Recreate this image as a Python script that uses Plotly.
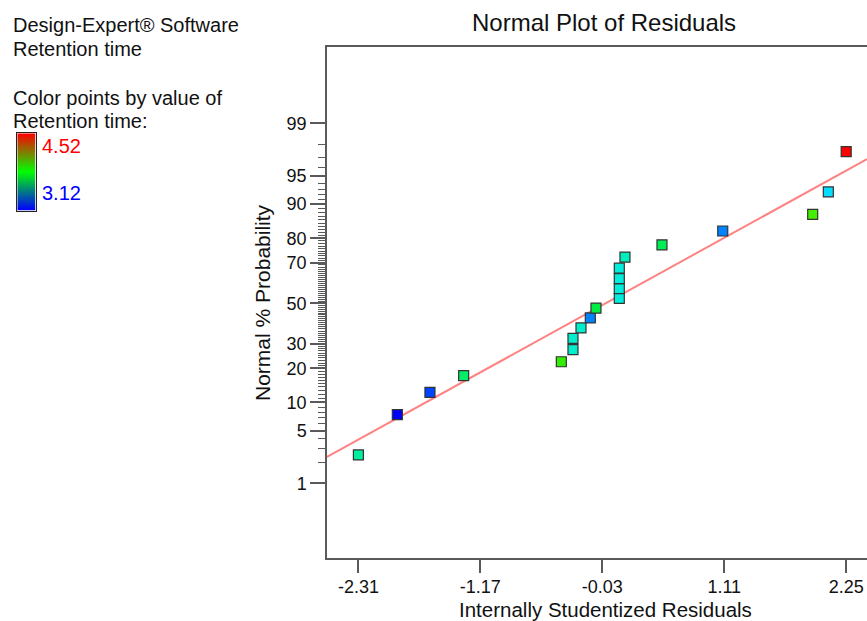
import numpy as np
import plotly.graph_objects as go
from statistics import NormalDist

# ---------------- data ----------------
RESIDUALS = [-2.31, -1.946, -1.641, -1.326, -0.413, -0.304, -0.304, -0.229, -0.142, -0.089,
             0.129, 0.129, 0.129, 0.129, 0.182, 0.528, 1.096, 1.937, 2.083, 2.25]
NORMAL_PCT = [2.5, 7.5, 12.5, 17.5, 22.5, 27.5, 32.5, 37.5, 42.5, 47.5,
              52.5, 57.5, 62.5, 67.5, 72.5, 77.5, 82.5, 87.5, 92.5, 97.5]
RETENTION = [3.60, 3.12, 3.22, 3.68, 3.895, 3.54, 3.54, 3.54, 3.31, 3.727,
             3.52, 3.52, 3.52, 3.52, 3.563, 3.703, 3.31, 3.92, 3.445, 4.52]
RET_MIN, RET_MAX = 3.12, 4.52

X_TICKS = [-2.31, -1.17, -0.03, 1.11, 2.25]
Y_TICKS_PCT = [1, 5, 10, 20, 30, 50, 70, 80, 90, 95, 99]
Y_MINOR_PCT = [p for p in range(2, 99) if p not in Y_TICKS_PCT]

# reference line (normal z = slope * residual + intercept)
LINE_SLOPE, LINE_INTERCEPT = 0.7627, 0.0

# ---------------- geometry / style ----------------
W, H = 867, 621
PL, PR, PT, PB = 327, 867, 46.7, 558.3
X_RANGE = [-2.6035, 2.4446]
Z_RANGE = [-3.296, 3.317]
FONT = "Liberation Sans, Arial, sans-serif"
AXC = "#5a5a5a"

nd = NormalDist()
def zval(p):
    return nd.inv_cdf(p / 100.0)

def px(x):
    return x / W

def py(y):
    return 1 - y / H

ys = [zval(p) for p in NORMAL_PCT]

fig = go.Figure()

line_x = np.array(X_RANGE)
fig.add_trace(go.Scatter(
    x=line_x, y=LINE_SLOPE * line_x + LINE_INTERCEPT, mode="lines",
    line=dict(color="#ff8282", width=2), hoverinfo="skip", showlegend=False))

marker_scale = [[0, "#0000ff"], [0.25, "#00eeff"], [0.5, "#00ee00"],
                [0.75, "#eeee00"], [1, "#ff0000"]]
fig.add_trace(go.Scatter(
    x=RESIDUALS, y=ys, mode="markers",
    marker=dict(symbol="square", size=10, color=RETENTION, colorscale=marker_scale,
                cmin=RET_MIN, cmax=RET_MAX, line=dict(color="#333333", width=1.2)),
    showlegend=False, cliponaxis=False))

# color legend bar
grad = np.linspace(RET_MIN, RET_MAX, 120).reshape(-1, 1)
fig.add_trace(go.Heatmap(
    z=grad, xaxis="x2", yaxis="y2", showscale=False, hoverinfo="skip",
    colorscale=[[0, "#0000ff"], [0.5, "#00ff00"], [1, "#ff0000"]],
    zmin=RET_MIN, zmax=RET_MAX))

fig.update_layout(
    width=W, height=H,
    margin=dict(l=0, r=0, t=0, b=0),
    paper_bgcolor="white", plot_bgcolor="white",
    font=dict(family=FONT, color="#111111", size=18),
    xaxis=dict(
        domain=[px(PL), px(PR)], range=X_RANGE, showgrid=False, zeroline=False,
        showline=True, linecolor=AXC, linewidth=1.5, mirror=True,
        tickmode="array", tickvals=X_TICKS, ticktext=[f"{v:.2f}" for v in X_TICKS],
        ticks="outside", ticklen=13, tickwidth=1.5, tickcolor=AXC,
        ticklabelstandoff=-2,
        tickfont=dict(size=18, family=FONT, color="#111111"),
    ),
    yaxis=dict(
        domain=[py(PB), py(PT)], range=Z_RANGE, showgrid=False, zeroline=False,
        showline=True, linecolor=AXC, linewidth=1.5, mirror=False,
        tickmode="array", tickvals=[zval(p) for p in Y_TICKS_PCT],
        ticktext=[str(p) for p in Y_TICKS_PCT],
        ticks="outside", ticklen=15, tickwidth=1.5, tickcolor=AXC,
        tickfont=dict(size=18, family=FONT, color="#111111"),
        minor=dict(tickmode="array", tickvals=[zval(p) for p in Y_MINOR_PCT],
                   ticks="outside", ticklen=7, tickwidth=1, tickcolor=AXC, showgrid=False),
    ),
    xaxis2=dict(domain=[px(17.3), px(35.7)], anchor="y2", range=[-0.5, 0.5],
                showticklabels=False, ticks="", showgrid=False, zeroline=False,
                showline=True, linecolor="#222222", linewidth=1.2, mirror=True),
    yaxis2=dict(domain=[py(210.7), py(133.3)], anchor="x2", range=[-0.5, 119.5],
                showticklabels=False, ticks="", showgrid=False, zeroline=False,
                showline=True, linecolor="#222222", linewidth=1.2, mirror=True),
)

def note(text, x, y, size=20, color="#111111", xanchor="left", angle=0):
    fig.add_annotation(text=text, x=px(x), y=py(y), xref="paper", yref="paper",
                       xanchor=xanchor, yanchor="middle", showarrow=False,
                       textangle=angle, font=dict(size=size, family=FONT, color=color))

note("Design-Expert® Software", 11, 25)
note("Retention time", 11, 49)
note("Color points by value of", 11, 98)
note("Retention time:", 11, 121.5)
note(f"{RET_MAX:.2f}", 40, 145.5, color="#ff0000")
note(f"{RET_MIN:.2f}", 40, 193, color="#0000ff")
note("Normal Plot of Residuals", 604, 22, size=24, xanchor="center")
note("Internally Studentized Residuals", 605, 609, size=20.5, xanchor="center")
note("Normal % Probability", 263, 303, size=21, xanchor="center", angle=-90)

fig.write_html("out.html")
